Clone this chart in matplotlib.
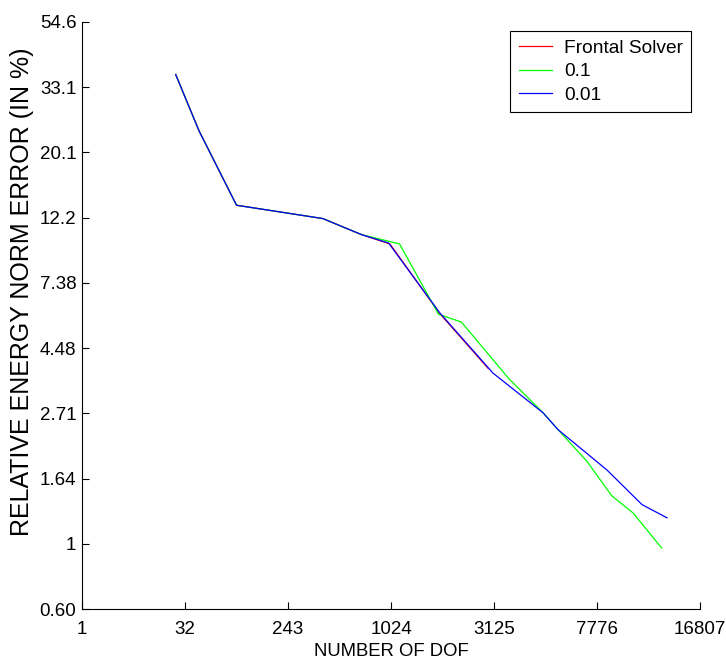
import matplotlib
matplotlib.use("Agg")
import matplotlib.pyplot as plt
import numpy as np

plt.rcParams["font.family"] = ["Liberation Sans", "DejaVu Sans"]

# number of degrees of freedom vs relative energy norm error (%)
dof_frontal = [25.4, 44.5, 97.7, 414, 706, 1011, 1796, 2957]
err_frontal = [36.5, 23.7, 13.4, 12.1, 10.7, 9.96, 5.83, 3.83]

dof_tol_01 = [25.4, 44.5, 97.7, 414, 706, 1135, 1767, 2255, 3608, 4925, 5611,
              7168, 8748, 10341, 12792]
err_tol_01 = [36.5, 23.7, 13.4, 12.1, 10.7, 9.96, 5.81, 5.47, 3.54, 2.73, 2.40,
              1.88, 1.445, 1.265, 0.968]

dof_tol_001 = [25.4, 44.5, 97.7, 414, 706, 994, 1796, 3094, 4925, 5611, 8425,
               11052, 13301]
err_tol_001 = [36.5, 23.7, 13.4, 12.1, 10.7, 10.03, 5.86, 3.70, 2.73, 2.40, 1.76,
               1.35, 1.22]

xticks = [1, 32, 243, 1024, 3125, 7776, 16807]
yticks = [0.6065, 1, 1.6487, 2.7183, 4.4817, 7.3891, 12.1825, 20.0855, 33.1155, 54.5982]
ytick_labels = ["0.60", "1", "1.64", "2.71", "4.48", "7.38", "12.2", "20.1", "33.1", "54.6"]


def fwd(x):
    x = np.asarray(x, dtype=float)
    return np.sign(x) * np.abs(x) ** 0.2


def inv(x):
    x = np.asarray(x, dtype=float)
    return np.sign(x) * np.abs(x) ** 5


fig = plt.figure(figsize=(7.26, 6.66), dpi=100)
ax = fig.add_axes([82 / 726, 57 / 666, 618 / 726, 587 / 666])

ax.plot(dof_frontal, err_frontal, color="#ff0000", lw=0.9, label="Frontal Solver")
ax.plot(dof_tol_01, err_tol_01, color="#00ff00", lw=0.9, label="0.1")
ax.plot(dof_tol_001, err_tol_001, color="#0000ff", lw=0.9, label="0.01")

ax.set_xscale("function", functions=(fwd, inv))
ax.set_yscale("log")
ax.set_xlim(1, 16807)
ax.set_ylim(yticks[0], yticks[-1])

ax.set_xticks(xticks)
ax.set_xticklabels([str(t) for t in xticks], fontsize=13.5)
ax.set_yticks(yticks)
ax.set_yticklabels(ytick_labels, fontsize=13.5)
ax.minorticks_off()
ax.tick_params(direction="in", length=5, width=0.8)
ax.tick_params(axis="x", pad=9)
ax.tick_params(axis="y", pad=4)

ax.spines["top"].set_visible(False)
ax.spines["right"].set_visible(False)
for s in ("left", "bottom"):
    ax.spines[s].set_linewidth(0.8)

ax.set_xlabel("NUMBER OF DOF", fontsize=13.3, labelpad=3)
ax.set_ylabel("RELATIVE ENERGY NORM ERROR (IN %)", fontsize=18)
ax.yaxis.set_label_coords(-0.077, 0.541)

leg = ax.legend(loc="upper right", bbox_to_anchor=(1.0, 1.0), fontsize=13.8,
                fancybox=False, framealpha=1, edgecolor="black",
                handlelength=1.75, handletextpad=0.6, borderpad=0.45,
                labelspacing=0.32, borderaxespad=0.45)
leg.get_frame().set_linewidth(0.8)

fig.savefig("out.png", dpi=100)
